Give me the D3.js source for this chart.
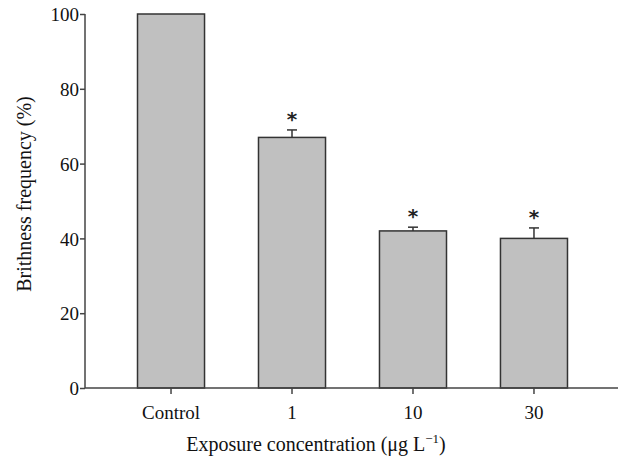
<!DOCTYPE html>
<html>
<head>
<meta charset="utf-8">
<script src="https://cdn.jsdelivr.net/npm/d3@7"></script>
<style>
  body { margin: 0; background: #fff; }
</style>
</head>
<body>
<div id="chart"></div>
<script>
var categories = ["Control", "1", "10", "30"];
var values = [100, 67, 42, 40];
var errors = [0, 2, 1, 2.8];
var significant = [false, true, true, true];
var yTicks = [0, 20, 40, 60, 80, 100];

var serif = "'Liberation Serif', 'DejaVu Serif', serif";

var margin = {top: 14, right: 0, bottom: 74, left: 85};
var width = 618 - margin.left - margin.right,
    height = 462 - margin.top - margin.bottom;

var data = categories.map(function(c, i) {
    return {name: c, value: values[i], err: errors[i], sig: significant[i]};
});

var svg = d3.select("#chart").append("svg")
    .attr("width", 618)
    .attr("height", 462)
    .append("g")
    .attr("transform", "translate(" + margin.left + "," + margin.top + ")");

var x = d3.scaleBand()
    .domain(categories)
    .range([0, 535])
    .paddingInner(0.446)
    .paddingOuter(0.434);

var y = d3.scaleLinear()
    .domain([0, 100])
    .range([height, 0]);

function cx(d) { return x(d.name) + x.bandwidth() / 2; }

// bars
svg.selectAll(".bar")
    .data(data)
    .enter().append("rect")
    .attr("class", "bar")
    .attr("x", function(d) { return x(d.name); })
    .attr("y", function(d) { return y(d.value); })
    .attr("width", x.bandwidth())
    .attr("height", function(d) { return height - y(d.value); })
    .attr("fill", "#c0c0c0")
    .attr("stroke", "#333")
    .attr("stroke-width", 1.5);

// error bars (upper only)
var err = svg.selectAll(".err")
    .data(data.filter(function(d) { return d.err > 0; }))
    .enter().append("g")
    .attr("class", "err");

err.append("line")
    .attr("x1", cx)
    .attr("x2", cx)
    .attr("y1", function(d) { return y(d.value); })
    .attr("y2", function(d) { return y(d.value + d.err); })
    .attr("stroke", "#333").attr("stroke-width", 1.5);

err.append("line")
    .attr("x1", function(d) { return cx(d) - 5; })
    .attr("x2", function(d) { return cx(d) + 5; })
    .attr("y1", function(d) { return y(d.value + d.err); })
    .attr("y2", function(d) { return y(d.value + d.err); })
    .attr("stroke", "#333").attr("stroke-width", 1.5);

// significance stars
svg.selectAll(".star")
    .data(data.filter(function(d) { return d.sig; }))
    .enter().append("text")
    .attr("class", "star")
    .attr("x", cx)
    .attr("y", function(d) { return y(d.value + d.err) - 4; })
    .attr("text-anchor", "middle")
    .style("font-family", "'DejaVu Sans', sans-serif")
    .style("font-size", "20px")
    .style("font-weight", "bold")
    .style("fill", "#222")
    .text("*");

// y axis
var yAxis = svg.append("g")
    .call(d3.axisLeft(y).tickValues(yTicks).tickSize(5).tickPadding(1));
yAxis.selectAll("text").style("font-size", "19px").style("font-family", serif).style("fill", "#111").attr("dy", "0.35em");
yAxis.select(".domain").attr("stroke", "#444").attr("stroke-width", 1.5).attr("d", "M0," + height + "V0");
yAxis.selectAll(".tick line").attr("stroke", "#444").attr("stroke-width", 1.5);

// x axis
var xAxis = svg.append("g")
    .attr("transform", "translate(0," + height + ")")
    .call(d3.axisBottom(x).tickSize(6).tickPadding(12));
xAxis.selectAll("text").style("font-size", "19px").style("font-family", serif).style("fill", "#111");
xAxis.select(".domain").attr("stroke", "#444").attr("stroke-width", 1.5).attr("d", "M0,0H535");
xAxis.selectAll(".tick line").attr("stroke", "#444").attr("stroke-width", 1.5);

// axis titles
svg.append("text")
    .attr("transform", "translate(-54," + (194 - margin.top) + ") rotate(-90)")
    .attr("text-anchor", "middle")
    .style("font-size", "20px")
    .style("font-family", serif)
    .style("fill", "#111")
    .text("Brithness frequency (%)");

var xt = svg.append("text")
    .attr("x", 231)
    .attr("y", height + 63)
    .attr("text-anchor", "middle")
    .style("font-size", "20px")
    .style("font-family", serif)
    .style("fill", "#111");
xt.append("tspan").text("Exposure concentration (\u03bcg L");
xt.append("tspan").attr("dy", "-8").style("font-size", "13px").text("\u22121");
xt.append("tspan").attr("dy", "8").text(")");
</script>
</body>
</html>
